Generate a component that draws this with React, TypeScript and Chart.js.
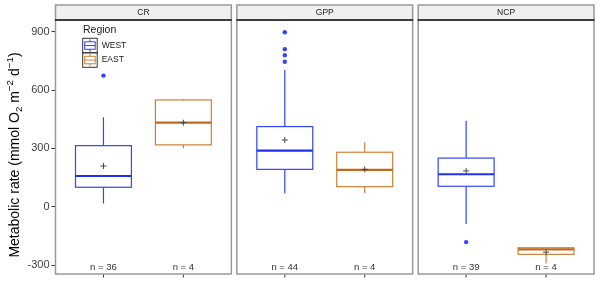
import { useEffect, useRef } from "react";
import { Chart, registerables } from "chart.js";
Chart.register(...registerables);

const panels = ["CR", "GPP", "NCP"];
const regions = ["WEST", "EAST"];
const regionColors = ["#3343ff", "#d08038"];
const medianColors = ["#1f30f0", "#c26a1c"];
const counts = [[36, 4], [44, 4], [39, 4]];
const whiskerLow = [[17, 300], [69, 69], [-89, -292]];
const q1 = [[100, 318], [192, 103], [105, -245]];
const median = [[158, 432], [288, 189], [167, -219]];
const q3 = [[314, 549], [412, 280], [250, -211]];
const whiskerHigh = [[460, 554], [703, 331], [442, -211]];
const means = [[209, 432], [343, 192], [184, -234]];
const outliers = [[[674], []], [[897, 810, 779, 745], []], [[-182], []]];
const yTicks = [-300, 0, 300, 600, 900];
const yMin = -346;
const yMax = 960;
const nLabelY = -314;

const FONT = "'Liberation Sans', Arial, sans-serif";
const SPAN = 2.2;
const GAP = 0.069;
const BOX_W = 0.7;
const pos = (p: number, r: number) => p * (SPAN + GAP) + (r + 1);
const panelMin = (p: number) => p * (SPAN + GAP) + 0.4;
const panelMax = (p: number) => p * (SPAN + GAP) + 0.4 + SPAN;

const facetPlugin = {
  id: "facets",
  beforeDatasetsDraw(chart: any) {
    const { ctx, scales } = chart;
    const xs = scales.x, ys = scales.y;
    ctx.save();
    panels.forEach((_, p) => {
      regions.forEach((_, r) => {
        const xc = xs.getPixelForValue(pos(p, r));
        const xl = xs.getPixelForValue(pos(p, r) - BOX_W / 2);
        const xr = xs.getPixelForValue(pos(p, r) + BOX_W / 2);
        const yq1 = ys.getPixelForValue(q1[p][r]);
        const yq3 = ys.getPixelForValue(q3[p][r]);
        const ymed = ys.getPixelForValue(median[p][r]);
        const ylo = ys.getPixelForValue(whiskerLow[p][r]);
        const yhi = ys.getPixelForValue(whiskerHigh[p][r]);
        ctx.strokeStyle = regionColors[r];
        ctx.lineWidth = 1.2;
        ctx.beginPath();
        ctx.moveTo(xc, yq3); ctx.lineTo(xc, yhi);
        ctx.moveTo(xc, yq1); ctx.lineTo(xc, ylo);
        ctx.stroke();
        ctx.fillStyle = "#ffffff";
        ctx.fillRect(xl, yq3, xr - xl, yq1 - yq3);
        ctx.strokeRect(xl, yq3, xr - xl, yq1 - yq3);
        ctx.strokeStyle = medianColors[r];
        ctx.lineWidth = 2.2;
        ctx.beginPath();
        ctx.moveTo(xl, ymed); ctx.lineTo(xr, ymed);
        ctx.stroke();
      });
    });
    ctx.restore();
  },
  afterDraw(chart: any) {
    const { ctx, scales, chartArea } = chart;
    const xs = scales.x, ys = scales.y;
    ctx.save();
    panels.forEach((name, p) => {
      const l = xs.getPixelForValue(panelMin(p));
      const rr = xs.getPixelForValue(panelMax(p));
      ctx.strokeStyle = "#999999";
      ctx.lineWidth = 1.5;
      ctx.strokeRect(l, chartArea.top, rr - l, chartArea.bottom - chartArea.top);
      ctx.fillStyle = "#f0f0f0";
      ctx.fillRect(l, 5, rr - l, chartArea.top - 5);
      ctx.strokeRect(l, 5, rr - l, chartArea.top - 5);
      ctx.strokeStyle = "#1a1a1a";
      ctx.beginPath();
      ctx.moveTo(l - 0.5, chartArea.top); ctx.lineTo(rr + 0.5, chartArea.top);
      ctx.stroke();
      ctx.fillStyle = "#1a1a1a";
      ctx.font = `8.5px ${FONT}`;
      ctx.textAlign = "center";
      ctx.textBaseline = "middle";
      ctx.fillText(name, (l + rr) / 2, 12.5);
      regions.forEach((_, r) => {
        const xc = xs.getPixelForValue(pos(p, r));
        ctx.strokeStyle = "#333333";
        ctx.lineWidth = 1;
        ctx.beginPath();
        ctx.moveTo(xc, chartArea.bottom + 0.75); ctx.lineTo(xc, chartArea.bottom + 3.5);
        ctx.stroke();
        ctx.fillStyle = "#333333";
        ctx.font = `9.5px ${FONT}`;
        ctx.textAlign = "center";
        ctx.textBaseline = "middle";
        ctx.fillText(`n = ${counts[p][r]}`, xc, ys.getPixelForValue(nLabelY));
      });
    });

    ctx.fillStyle = "#1a1a1a";
    ctx.font = `10.5px ${FONT}`;
    ctx.textAlign = "left";
    ctx.textBaseline = "middle";
    ctx.fillText("Region", 83, 30);
    const kx = 82.7, ky = 38.3, ks = 14.5;
    regions.forEach((name, r) => {
      const y0 = ky + r * ks;
      ctx.strokeStyle = "#333333";
      ctx.lineWidth = 1;
      ctx.strokeRect(kx, y0, ks, ks);
      ctx.strokeStyle = regionColors[r];
      ctx.lineWidth = 1;
      ctx.beginPath();
      ctx.moveTo(kx + ks / 2, y0 + 1); ctx.lineTo(kx + ks / 2, y0 + ks - 1);
      ctx.stroke();
      ctx.fillStyle = "#ffffff";
      ctx.fillRect(kx + 2, y0 + 3.5, ks - 4, ks - 7);
      ctx.strokeRect(kx + 2, y0 + 3.5, ks - 4, ks - 7);
      ctx.beginPath();
      ctx.moveTo(kx + 2, y0 + ks / 2); ctx.lineTo(kx + ks - 2, y0 + ks / 2);
      ctx.stroke();
      ctx.fillStyle = "#1a1a1a";
      ctx.font = `8.5px ${FONT}`;
      ctx.fillText(name, 101.7, y0 + ks / 2);
    });

    const fs = 14;
    const small = fs * 0.7;
    const segs: [string, number, number][] = [
      ["Metabolic rate (mmol O", fs, 0],
      ["2", small, 3],
      [" m", fs, 0],
      ["\u22122", small, -6],
      [" d", fs, 0],
      ["\u22121", small, -6],
      [")", fs, 0],
    ];
    let total = 0;
    segs.forEach(([t, s]) => { ctx.font = `${s}px ${FONT}`; total += ctx.measureText(t).width; });
    ctx.translate(14, 155);
    ctx.rotate(-Math.PI / 2);
    ctx.fillStyle = "#000000";
    ctx.textAlign = "left";
    ctx.textBaseline = "alphabetic";
    let cx = -total / 2;
    segs.forEach(([t, s, off]) => {
      ctx.font = `${s}px ${FONT}`;
      ctx.fillText(t, cx, 5 + off);
      cx += ctx.measureText(t).width;
    });
    ctx.restore();
  },
};

export default function App() {
  const ref = useRef<HTMLCanvasElement | null>(null);
  useEffect(() => {
    if (!ref.current) return;
    const outlierData: { x: number; y: number }[] = [];
    outliers.forEach((pv, p) => pv.forEach((vals, r) => vals.forEach((v) => outlierData.push({ x: pos(p, r), y: v }))));
    const meanData: { x: number; y: number }[] = [];
    means.forEach((pv, p) => pv.forEach((v, r) => meanData.push({ x: pos(p, r), y: v })));
    const chart = new Chart(ref.current, {
      type: "scatter",
      data: {
        datasets: [
          {
            label: "outliers",
            data: outlierData,
            pointRadius: 2.2,
            pointBackgroundColor: regionColors[0],
            pointBorderWidth: 0,
            pointBorderColor: regionColors[0],
          },
          {
            label: "mean",
            data: meanData,
            pointStyle: "cross",
            pointRadius: 3,
            pointBorderColor: "#444444",
            pointBorderWidth: 1,
          },
        ],
      },
      options: {
        animation: false,
        responsive: false,
        layout: { padding: { top: 20, right: 6, bottom: 9, left: 0 } },
        plugins: { legend: { display: false }, tooltip: { enabled: false } },
        scales: {
          x: { type: "linear", min: panelMin(0), max: panelMax(2), display: false },
          y: {
            type: "linear",
            min: yMin,
            max: yMax,
            afterBuildTicks: (s: any) => { s.ticks = yTicks.map((v) => ({ value: v })); },
            afterFit: (s: any) => { s.width = 55.5; },
            ticks: { font: { size: 11, family: FONT }, color: "#404040", padding: 2 },
            grid: { drawOnChartArea: false, tickLength: 4, color: "#333333", lineWidth: 1 },
            border: { display: false },
          },
        },
      },
      plugins: [facetPlugin],
    });
    return () => chart.destroy();
  }, []);
  return (
    <div style={{ position: "absolute", left: 0, top: 0, width: 600, height: 283, background: "#fff" }}>
      <canvas ref={ref} width={600} height={283} />
    </div>
  );
}
